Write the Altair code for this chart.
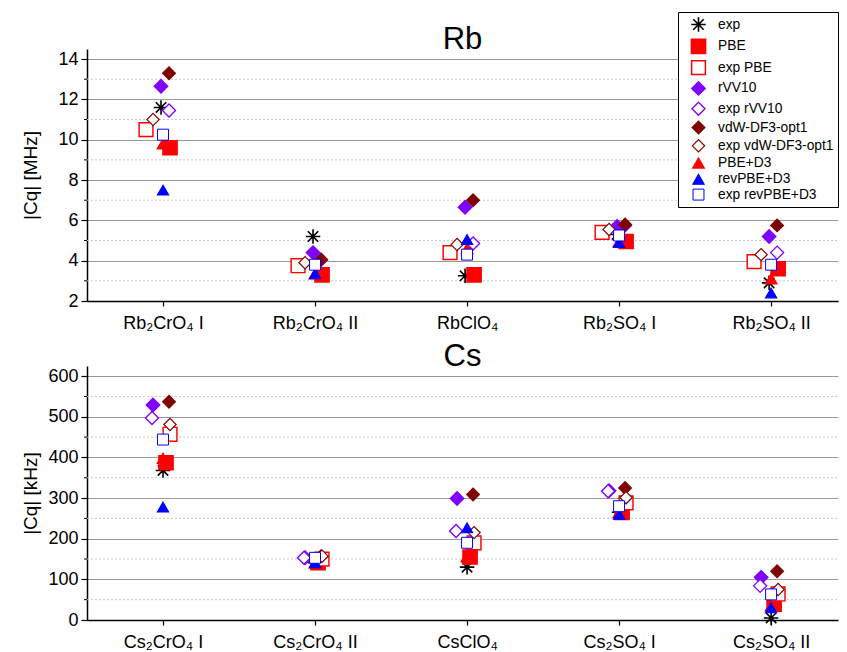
import json
import altair as alt
import pandas as pd

# ---------------- data ----------------
rb_categories = ["Rb₂CrO₄ I", "Rb₂CrO₄ II", "RbClO₄", "Rb₂SO₄ I", "Rb₂SO₄ II"]
cs_categories = ["Cs₂CrO₄ I", "Cs₂CrO₄ II", "CsClO₄", "Cs₂SO₄ I", "Cs₂SO₄ II"]
series = ["exp", "PBE", "exp PBE", "rVV10", "exp rVV10", "vdW-DF3-opt1",
          "exp vdW-DF3-opt1", "PBE+D3", "revPBE+D3", "exp revPBE+D3"]

# Rb |Cq| in MHz
rb_exp = [11.6, 5.2, 3.25, 5.3, 2.9]
rb_pbe = [9.6, 3.3, 3.3, 4.95, 3.6]
rb_exp_pbe = [10.5, 3.75, 4.4, 5.4, 3.95]
rb_rvv10 = [12.65, 4.4, 6.65, 5.7, 5.2]
rb_exp_rvv10 = [11.45, 4.05, 4.85, 5.75, 4.4]
rb_vdw = [13.3, 4.05, 7.0, 5.8, 5.75]
rb_exp_vdw = [11.0, 3.9, 4.8, 5.55, 4.3]
rb_pbe_d3 = [9.8, 3.35, 4.6, 4.95, 3.1]
rb_revpbe_d3 = [7.5, 3.35, 5.05, 4.9, 2.4]
rb_exp_revpbe_d3 = [10.25, 3.8, 4.3, 5.25, 3.8]

# Cs |Cq| in kHz
cs_exp = [368, 141, 130, 265, 5]
cs_pbe = [387, 141, 155, 265, 39]
cs_exp_pbe = [457, 150, 190, 288, 64]
cs_rvv10 = [529, 153, 299, 318, 105]
cs_exp_rvv10 = [497, 153, 219, 317, 84]
cs_vdw = [537, 157, 309, 325, 120]
cs_exp_vdw = [481, 157, 215, 301, 75]
cs_pbe_d3 = [398, 141, 157, 265, 35]
cs_revpbe_d3 = [278, 141, 227, 260, 30]
cs_exp_revpbe_d3 = [444, 153, 190, 280, 63]

rb_major = [2, 4, 6, 8, 10, 12, 14]
rb_minor = [3, 5, 7, 9, 11, 13]
cs_major = [0, 100, 200, 300, 400, 500, 600]
cs_minor = [50, 150, 250, 350, 450, 550]

# ---------------- style ----------------
STAR = "M-1,0L1,0M0,-1L0,1M-0.72,-0.72L0.72,0.72M-0.72,0.72L0.72,-0.72"
RED, PURPLE, DARKRED, BLUE = "#ff0000", "#8000ff", "#800000", "#0000ff"
shapes = [STAR, "square", "square", "diamond", "diamond", "diamond", "diamond",
          "triangle-up", "triangle-up", "square"]
fills = ["white", RED, "white", PURPLE, "white", DARKRED, "white", RED, BLUE, "white"]
strokes = ["black", RED, RED, PURPLE, PURPLE, DARKRED, DARKRED, RED, BLUE, BLUE]
sizes = [210, 120, 120, 260, 200, 260, 200, 260, 260, 120]
stroke_widths = [1.6, 1, 2, 1, 2, 1, 2, 1, 1, 2]
# horizontal jitter of each series inside a cluster, in pixels
rb_jitter = [-2, 7, -17, -2, 6, 6, -10, 0, 0, 0]
cs_jitter = [0, 3, 7, -10, -11, 6, 7, 0, 0, 0]

W = 751
XDOM = [0.5, 5.44]
PX = W / (XDOM[1] - XDOM[0])
FONT = "Liberation Sans"


def build(values, jitter):
    rows = []
    for si, s in enumerate(series):
        for ci, v in enumerate(values[si]):
            rows.append({"series": s, "cat": ci + 1,
                         "xpos": ci + 1 + jitter[si] / PX, "value": v})
    return pd.DataFrame(rows)


rb_df = build([rb_exp, rb_pbe, rb_exp_pbe, rb_rvv10, rb_exp_rvv10, rb_vdw,
               rb_exp_vdw, rb_pbe_d3, rb_revpbe_d3, rb_exp_revpbe_d3], rb_jitter)
cs_df = build([cs_exp, cs_pbe, cs_exp_pbe, cs_rvv10, cs_exp_rvv10, cs_vdw,
               cs_exp_vdw, cs_pbe_d3, cs_revpbe_d3, cs_exp_revpbe_d3], cs_jitter)


def panel(df, cats, major, minor, ydom, ytitle, title, height):
    label_expr = json.dumps(cats) + "[datum.value - 1]"
    x_enc = alt.X("xpos:Q",
                  scale=alt.Scale(domain=XDOM, nice=False, zero=False),
                  axis=alt.Axis(values=[1, 2, 3, 4, 5], labelExpr=label_expr,
                                title=None, grid=False, domainColor="black",
                                domainWidth=1.5, tickColor="black", tickSize=5,
                                tickWidth=1.2, labelFontSize=18, labelColor="black",
                                labelPadding=8, labelFont=FONT))

    def y_enc():
        return alt.Y("value:Q",
                     scale=alt.Scale(domain=ydom, nice=False, zero=False),
                     axis=alt.Axis(values=major, title=ytitle, grid=True,
                                   gridColor="#9a9a9a", gridWidth=1.2,
                                   domainColor="black", domainWidth=1.5,
                                   tickColor="black", tickSize=6, tickWidth=1.2,
                                   labelFontSize=18, labelColor="black",
                                   labelPadding=3, labelFont=FONT,
                                   titleFontSize=19, titleFontWeight="normal",
                                   titleColor="black", titleFont=FONT,
                                   titleX=-57, titleBaseline="middle"))

    minor_df = pd.DataFrame({"value": minor})
    grid_minor = alt.Chart(minor_df).mark_rule(
        color="#c8c8c8", strokeDash=[2, 2], strokeWidth=1
    ).encode(y=y_enc(), x=alt.value(0), x2=alt.value(W))
    tick_minor = alt.Chart(minor_df).mark_rule(
        color="black", strokeWidth=1
    ).encode(y=y_enc(), x=alt.value(-3), x2=alt.value(0))

    pts = alt.Chart(df).mark_point(opacity=1, fillOpacity=1, strokeOpacity=1).encode(
        x=x_enc,
        y=y_enc(),
        shape=alt.Shape("series:N", scale=alt.Scale(domain=series, range=shapes), title=None),
        fill=alt.Fill("series:N", scale=alt.Scale(domain=series, range=fills), title=None),
        stroke=alt.Stroke("series:N", scale=alt.Scale(domain=series, range=strokes), title=None),
        size=alt.Size("series:N", scale=alt.Scale(domain=series, range=sizes), title=None),
        strokeWidth=alt.StrokeWidth("series:N", scale=alt.Scale(domain=series, range=stroke_widths), title=None),
        order=alt.Order("order:Q"),
    ).transform_calculate(order="indexof(" + json.dumps(series) + ", datum.series)")

    return alt.layer(grid_minor, tick_minor, pts).properties(
        width=W, height=height,
        title=alt.Title(title, fontSize=31, fontWeight="normal", font=FONT,
                        color="black", anchor="middle", offset=-7),
    )


top = panel(rb_df, rb_categories, rb_major, rb_minor, [2, 14.5], "|Cq| [MHz]", "Rb", 252)
bottom = panel(cs_df, cs_categories, cs_major, cs_minor, [0, 625], "|Cq| [kHz]", "Cs", 254)

chart = alt.vconcat(top, bottom, spacing=65, bounds="flush").properties(
    padding={"left": 13, "top": 3, "right": 0, "bottom": 0}
).configure(font=FONT).configure_view(stroke=None).configure_legend(
    orient="none", legendX=591, legendY=-37,
    fillColor="white", strokeColor="black", strokeWidth=1,
    padding=4, cornerRadius=0, symbolOffset=8, labelOffset=11,
    labelFontSize=13.8, labelColor="black", labelFont=FONT,
    rowPadding=0.3, symbolType="circle"
)

chart.save("out.html", embed_options={"renderer": "svg", "actions": False})
